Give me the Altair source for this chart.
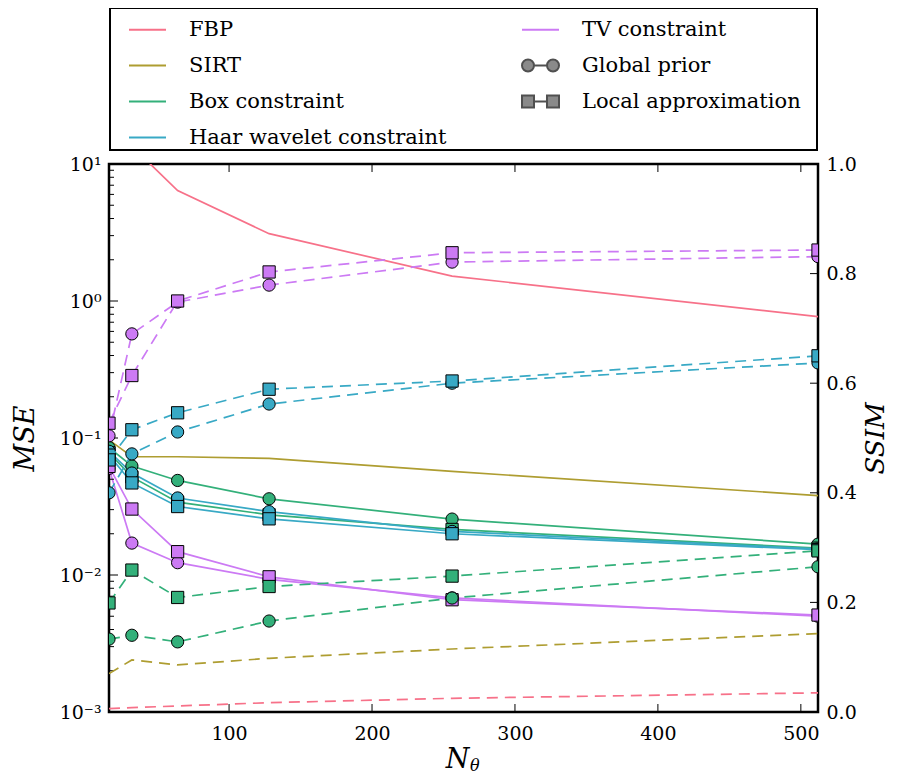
import altair as alt
import pandas as pd

FONT = "DejaVu Serif"

# ---------------- data ----------------
N = [16, 32, 64, 128, 256, 512]

methods = ["FBP", "SIRT", "Box constraint", "Haar wavelet constraint", "TV constraint"]
priors = ["Global prior", "Local approximation"]

# MSE (solid lines, left log axis)
mse_fbp = [30.0, 13.5, 6.4, 3.1, 1.52, 0.77]
mse_sirt = [0.097, 0.073, 0.073, 0.071, 0.057, 0.038]
mse_box_global = [0.085, 0.0625, 0.049, 0.036, 0.0256, 0.0168]
mse_box_local = [0.078, 0.052, 0.034, 0.0275, 0.0215, 0.0157]
mse_haar_global = [0.080, 0.0555, 0.0365, 0.029, 0.0208, 0.0155]
mse_haar_local = [0.075, 0.047, 0.0316, 0.0257, 0.0200, 0.0153]
mse_tv_global = [0.060, 0.0171, 0.0123, 0.0093, 0.0068, 0.0050]
mse_tv_local = [0.062, 0.0303, 0.0148, 0.0097, 0.0066, 0.0051]

# SSIM (dashed lines, right axis)
ssim_fbp = [0.006, 0.008, 0.011, 0.017, 0.025, 0.035]
ssim_sirt = [0.070, 0.095, 0.086, 0.098, 0.115, 0.143]
ssim_box_global = [0.133, 0.140, 0.128, 0.166, 0.208, 0.265]
ssim_box_local = [0.199, 0.259, 0.209, 0.229, 0.248, 0.294]
ssim_haar_global = [0.400, 0.471, 0.511, 0.562, 0.600, 0.637]
ssim_haar_local = [0.460, 0.515, 0.546, 0.589, 0.604, 0.650]
ssim_tv_global = [0.504, 0.690, 0.748, 0.779, 0.821, 0.831]
ssim_tv_local = [0.527, 0.614, 0.750, 0.803, 0.838, 0.843]

x_tick_values = [100, 200, 300, 400, 500]
mse_tick_values = [0.001, 0.01, 0.1, 1, 10]
mse_tick_labels = ["10⁻³", "10⁻²", "10⁻¹", "10⁰", "10¹"]
mse_minor_values = [k * 10.0 ** e for e in range(-3, 1) for k in range(2, 10)]
ssim_tick_values = [0.0, 0.2, 0.4, 0.6, 0.8, 1.0]

legend_order = ["FBP", "SIRT", "Box constraint", "Haar wavelet constraint",
                "TV constraint", "Global prior", "Local approximation"]

# ---------------- styles ----------------
palette = ["#f77189", "#ae9d31", "#33b07a", "#38a9c5", "#cc7af4"]
method_color = dict(zip(methods, palette))
prior_color = "#505050"
LINE_PATH = "M-1,0L1,0"
GLOBAL_PATH = ("M-1,0A0.324,0.324 0 1 1 -0.352,0A0.324,0.324 0 1 1 -1,0Z"
               "M0.352,0A0.324,0.324 0 1 1 1,0A0.324,0.324 0 1 1 0.352,0Z"
               "M-0.352,0L0.352,0")
LOCAL_PATH = ("M-1,-0.324L-0.351,-0.324L-0.351,0.324L-1,0.324Z"
              "M0.351,-0.324L1,-0.324L1,0.324L0.351,0.324Z"
              "M-0.351,0L0.351,0")
legend_colors = [method_color.get(v, prior_color) for v in legend_order]
legend_shapes = [GLOBAL_PATH if v == "Global prior" else LOCAL_PATH if v == "Local approximation"
                 else LINE_PATH for v in legend_order]

W, H = 709, 548

series = [
    ("FBP", "none", mse_fbp, ssim_fbp),
    ("SIRT", "none", mse_sirt, ssim_sirt),
    ("Box constraint", "Global prior", mse_box_global, ssim_box_global),
    ("Box constraint", "Local approximation", mse_box_local, ssim_box_local),
    ("Haar wavelet constraint", "Global prior", mse_haar_global, ssim_haar_global),
    ("Haar wavelet constraint", "Local approximation", mse_haar_local, ssim_haar_local),
    ("TV constraint", "Global prior", mse_tv_global, ssim_tv_global),
    ("TV constraint", "Local approximation", mse_tv_local, ssim_tv_local),
]
rows = []
for i, (m, p, ms, ss) in enumerate(series):
    for n, a, b in zip(N, ms, ss):
        rows.append({"series": f"{i}|{m}|{p}", "order": i, "method": m, "prior": p,
                     "N": n, "mse": a, "ssim": b})
df = pd.DataFrame(rows)
marker_df = df[df["prior"] != "none"].reset_index(drop=True)

# ---------------- scales / axes ----------------
x_scale = alt.Scale(domain=[16, 512], nice=False, zero=False)
mse_scale = alt.Scale(type="log", domain=[0.001, 10], nice=False)
ssim_scale = alt.Scale(domain=[0, 1], nice=False, zero=False)
color_scale = alt.Scale(domain=methods, range=palette)

label_expr = ""
for v, lab in zip(mse_tick_values[:-1], mse_tick_labels[:-1]):
    label_expr += f"datum.value < {v * 3} ? '{lab}' : "
label_expr += f"'{mse_tick_labels[-1]}'"

x_axis = alt.Axis(values=x_tick_values, format="d", ticks=False, domain=False, grid=False,
                  labelFont=FONT, labelFontSize=19, labelColor="black", labelPadding=12,
                  title="N", titleFont=FONT, titleFontStyle="italic", titleFontWeight="normal",
                  titleFontSize=27, titleColor="black", titleX=348, titleY=47,
                  titleBaseline="middle", titleAlign="center")
mse_axis = alt.Axis(values=mse_tick_values, labelExpr=label_expr, ticks=False, domain=False,
                    grid=False, labelFont=FONT, labelFontSize=19, labelColor="black",
                    labelPadding=8, title="MSE", titleFont=FONT, titleFontStyle="italic",
                    titleFontWeight="normal", titleFontSize=27, titleColor="black",
                    titleAngle=270, titleX=-84, titleY=H / 2, titleBaseline="middle",
                    titleAlign="center")
ssim_axis = alt.Axis(orient="right", values=ssim_tick_values, format=".1f", ticks=False,
                     domain=False, grid=False, labelFont=FONT, labelFontSize=19,
                     labelColor="black", labelPadding=8, title="SSIM", titleFont=FONT,
                     titleFontStyle="italic", titleFontWeight="normal", titleFontSize=26,
                     titleColor="black", titleAngle=270, titleX=57, titleY=H / 2,
                     titleBaseline="middle", titleAlign="center")


def X():
    return alt.X("N:Q", scale=x_scale, axis=x_axis)


def Y_mse():
    return alt.Y("mse:Q", scale=mse_scale, axis=mse_axis)


def Y_ssim():
    return alt.Y("ssim:Q", scale=ssim_scale, axis=ssim_axis)


# ---------------- MSE group ----------------
mse_lines = alt.Chart(df).mark_line(strokeWidth=1.7, clip=True).encode(
    x=X(), y=Y_mse(),
    color=alt.Color("method:N", scale=color_scale, legend=None),
    detail="series:N", order="N:Q")
mse_points = alt.Chart(marker_df).mark_point(filled=True, size=150, stroke="black",
                                             strokeWidth=1, opacity=1, clip=True).encode(
    x=X(), y=Y_mse(),
    fill=alt.Fill("method:N", scale=color_scale, legend=None),
    shape=alt.Shape("prior:N", scale=alt.Scale(domain=priors, range=["circle", "square"]),
                    legend=None),
    order="order:Q")
left_major = alt.Chart(pd.DataFrame({"mse": mse_tick_values})).mark_rule(
    color="black", strokeWidth=1).encode(y=Y_mse(), x=alt.value(0), x2=alt.value(9))
left_minor = alt.Chart(pd.DataFrame({"mse": mse_minor_values})).mark_rule(
    color="black", strokeWidth=1).encode(y=Y_mse(), x=alt.value(0), x2=alt.value(5))
bottom_ticks = alt.Chart(pd.DataFrame({"N": x_tick_values})).mark_rule(
    color="black", strokeWidth=1).encode(x=X(), y=alt.value(H - 8), y2=alt.value(H))
top_ticks = alt.Chart(pd.DataFrame({"N": x_tick_values})).mark_rule(
    color="black", strokeWidth=1).encode(x=X(), y=alt.value(0), y2=alt.value(8))
mse_group = alt.layer(mse_lines, left_major, left_minor, bottom_ticks, top_ticks, mse_points)

# ---------------- SSIM group ----------------
ssim_lines = alt.Chart(df).mark_line(strokeWidth=1.7, strokeDash=[11, 7], clip=True).encode(
    x=X(), y=Y_ssim(),
    color=alt.Color("method:N", scale=color_scale, legend=None),
    detail="series:N", order="N:Q")
ssim_points = alt.Chart(marker_df).mark_point(filled=True, size=150, stroke="black",
                                              strokeWidth=1, opacity=1, clip=True).encode(
    x=X(), y=Y_ssim(),
    fill=alt.Fill("method:N", scale=color_scale, legend=None),
    shape=alt.Shape("prior:N", scale=alt.Scale(domain=priors, range=["circle", "square"]),
                    legend=None),
    order="order:Q")
right_ticks = alt.Chart(pd.DataFrame({"ssim": ssim_tick_values})).mark_rule(
    color="black", strokeWidth=1).encode(y=Y_ssim(), x=alt.value(W - 8), x2=alt.value(W))
ssim_group = alt.layer(ssim_lines, right_ticks, ssim_points)

# ---------------- legend layer ----------------
# two trailing spaces (kept by a zero-width end mark) widen the framed box to the plot edge
legend_label_expr = ("datum.label == 'Local approximation' ? "
                     "'Local approximation  \u200b' : datum.label")
legend_def = alt.Legend(title=None, orient="none", legendX=1, legendY=-156, columns=2,
                        columnPadding=58, rowPadding=6, padding=2, strokeColor="black",
                        gridAlign="all", labelExpr=legend_label_expr,
                        labelFont=FONT, labelFontSize=21, labelColor="black", labelLimit=600,
                        labelOffset=22, symbolSize=1369, symbolStrokeWidth=2,
                        symbolOffset=16, symbolOpacity=1)
legend_layer = alt.Chart(pd.DataFrame({"legend": legend_order})).mark_point(
    filled=False, fill="#8a8a8a", opacity=1).encode(
    color=alt.Color("legend:N", scale=alt.Scale(domain=legend_order, range=legend_colors),
                    legend=legend_def),
    shape=alt.Shape("legend:N", scale=alt.Scale(domain=legend_order, range=legend_shapes),
                    legend=legend_def),
).transform_filter("false")

theta = alt.Chart(pd.DataFrame({"t": ["θ"]})).mark_text(
    font=FONT, fontStyle="italic", fontSize=16, align="left", baseline="middle",
    color="black").encode(text="t:N", x=alt.value(361), y=alt.value(H + 54))

chart = alt.layer(mse_group, ssim_group, legend_layer, theta).resolve_scale(
    y="independent", color="independent", shape="independent", fill="independent"
).properties(
    width=W, height=H,
    padding={"left": 101, "top": 156, "right": 72, "bottom": 62},
    autosize=alt.AutoSizeParams(type="none"),
).configure_view(stroke="black", strokeWidth=2.5).configure_legend(strokeWidth=2)

chart.save("out.html", embed_options={"renderer": "svg", "actions": False})
